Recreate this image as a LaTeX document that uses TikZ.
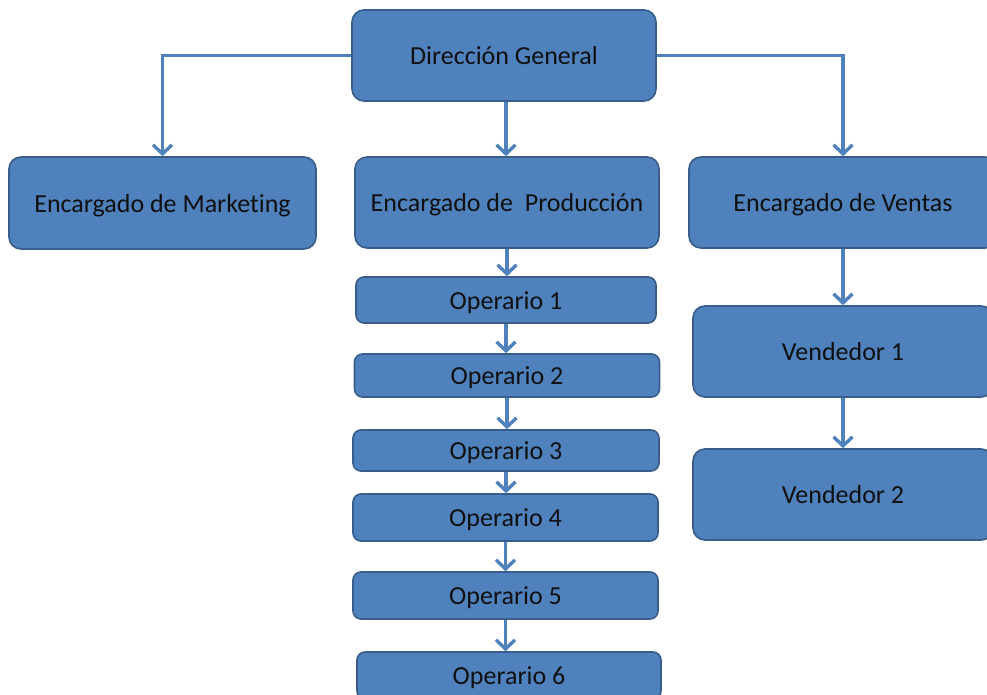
\documentclass[tikz,border=0pt]{standalone}
\usepackage{fontspec}
\setmainfont{Carlito}[Ligatures = NoCommon]
\usetikzlibrary{arrows.meta}
\usetikzlibrary{positioning}
\definecolor{boxfill}{HTML}{4F81BD}
\definecolor{boxline}{HTML}{385D8A}
\definecolor{boxtext}{HTML}{101010}
\tikzset{
  box/.style = {draw = boxline, fill = boxfill, line width = 1.6, rounded corners = 12,
    text = boxtext, font = \fontsize{26}{30}\selectfont, inner sep = 0,
    text height = 18pt, text depth = 0pt},
  smallbox/.style = {box, rounded corners = 8},
  link/.style = {draw = boxfill, line width = 3.4,
    -{Straight Barb[length = 9, width = 19, line width = 3.4]}}
}

\begin{document}
\begin{tikzpicture}[x=1pt, y=-1pt]
      \useasboundingbox (0, 0) rectangle (987, 695);
      \clip (0, 0) rectangle (987, 695);

      \node [box, minimum width = 304, minimum height = 91] at (504, 55.5) (dir) {Dirección General};
      \node [box, minimum width = 307, minimum height = 92] at (162.5, 203) (mkt) {Encargado de Marketing};
      \node [box, minimum width = 304, minimum height = 91] at (507, 202.5) (prod) {Encargado de\ \ Producción};
      \node [box, minimum width = 308, minimum height = 91] at (843, 202.5) (ventas) {Encargado de Ventas};

      \node [smallbox, minimum width = 300, minimum height = 46] at (506, 300) (op1) {Operario 1};
      \node [smallbox, minimum width = 305, minimum height = 43] at (507, 375.5) (op2) {Operario 2};
      \node [smallbox, minimum width = 306, minimum height = 41] at (506, 450.5) (op3) {Operario 3};
      \node [smallbox, minimum width = 305, minimum height = 47] at (505.5, 517.5) (op4) {Operario 4};
      \node [smallbox, minimum width = 305, minimum height = 47] at (505.5, 595.5) (op5) {Operario 5};
      \node [smallbox, minimum width = 304, minimum height = 47] at (509, 675.5) (op6) {Operario 6};

      \node [box, minimum width = 300, minimum height = 91] at (843, 351.5) (vend1) {Vendedor 1};
      \node [box, minimum width = 300, minimum height = 91] at (843, 494.5) (vend2) {Vendedor 2};

      \draw [link] (dir.west) -| (mkt.north);
      \draw [link] (dir.east) -| (ventas.north);
      \draw [link] (dir.south) ++(2, 0) coordinate (dirs) -- (dirs |- prod.north);

      % chain of operarios below the production head
      \foreach \from/\to in {prod/op1, op1/op2, op2/op3, op3/op4, op4/op5, op5/op6}
        \draw [link] (\from.south) -- (\from.south |- \to.north);

      \draw [link] (ventas.south) -- (vend1.north);
      \draw [link] (vend1.south) -- (vend2.north);
\end{tikzpicture}
\end{document}
